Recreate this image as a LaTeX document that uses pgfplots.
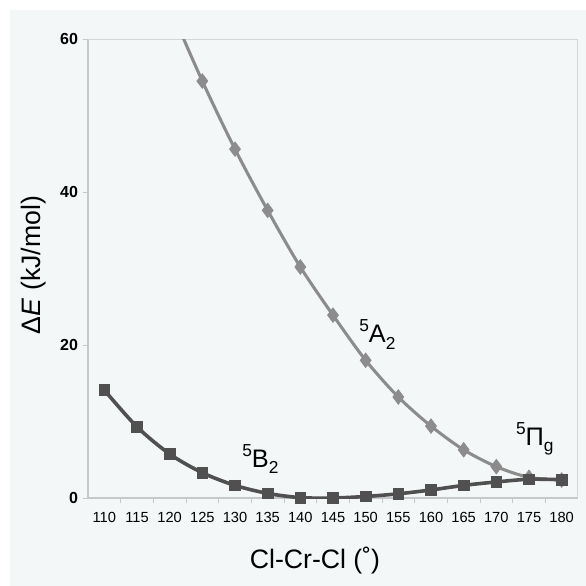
\documentclass[border=0pt]{standalone}
\usepackage{pgfplots}
\pgfplotsset{compat=1.18}
\usepackage{fontspec}
\setmainfont{Liberation Sans}

\definecolor{bgc}{HTML}{F4F7F7}
\definecolor{axc}{HTML}{C4C8C8}
\definecolor{bline}{HTML}{505050}
\definecolor{aline}{HTML}{8C8C8C}

\newcommand{\state}[3]{\raisebox{0.8ex}{\fontsize{13}{13}\selectfont #1}#2\raisebox{-0.5ex}{\fontsize{13}{13}\selectfont #3}}

\begin{document}
\begin{tikzpicture}
\fill[white] (-66pt,-66pt) rectangle (373.5pt,373.5pt);
\fill[bgc] (-58.5pt,-66pt) rectangle (373.5pt,366pt);
\begin{axis}[
  scale only axis,
  width=367.5pt, height=344.25pt,
  xmin=107.5, xmax=182.5, ymin=0, ymax=60,
  xtick={110,115,...,180},
  minor xtick={112.5,117.5,...,177.5},
  ytick={0,20,40,60},
  major x tick style={draw=none},
  minor x tick style={axc, line width=0.6pt},
  minor tick length=4pt,
  y tick style={axc, line width=0.6pt},
  major tick length=4pt,
  tick align=outside,
  axis line style={axc, line width=0.8pt},
  axis x line*=bottom, axis y line*=left,
  xticklabel style={font=\fontsize{11}{12}\selectfont, yshift=-3pt},
  yticklabel style={font=\fontsize{12}{13}\selectfont\bfseries},
  /pgf/number format/assume math mode=true,
  /pgf/number format/1000 sep={},
  clip=true,
]
\draw[axc!70, line width=0.8pt] (rel axis cs:0,1) -- (rel axis cs:1,1) -- (rel axis cs:1,0);
% 5A2
\addplot[aline, line width=2.3pt, smooth, mark=diamond*, mark size=5.5pt,
  mark options={fill=aline, draw=aline, line width=0.5pt}] coordinates {
  (110,86.6)(115,75.0)(120,64.3)(125,54.5)(130,45.6)(135,37.6)(140,30.2)
  (145,23.9)(150,18.0)(155,13.2)(160,9.4)(165,6.3)(170,4.1)(175,2.7)(180,2.35)
};
% 5B2
\addplot[bline, line width=2.7pt, smooth, mark=square*, mark size=4pt,
  mark options={fill=bline, draw=bline, line width=0.5pt}] coordinates {
  (110,14.1)(115,9.3)(120,5.75)(125,3.3)(130,1.65)(135,0.6)(140,0.05)
  (145,0.0)(150,0.2)(155,0.55)(160,1.05)(165,1.65)(170,2.1)(175,2.45)(180,2.4)
};
\node[anchor=base west, font=\fontsize{19}{22}\selectfont] at (axis cs:148.3,20.3) {\state{5}{A}{2}};
\node[anchor=base west, font=\fontsize{19}{22}\selectfont] at (axis cs:130.4,4.05) {\state{5}{B}{2}};
\node[anchor=base west, font=\fontsize{19}{22}\selectfont] at (axis cs:172.3,6.9) {\state{5}{Π}{g}};
\end{axis}
\node[font=\fontsize{20}{24}\selectfont] at (170.25pt,-47.25pt) {Cl-Cr-Cl (˚)};
\node[rotate=90, font=\fontsize{20}{24}\selectfont] at (-40.5pt,174.75pt) {Δ\textit{E} (kJ/mol)};
\end{tikzpicture}
\end{document}
